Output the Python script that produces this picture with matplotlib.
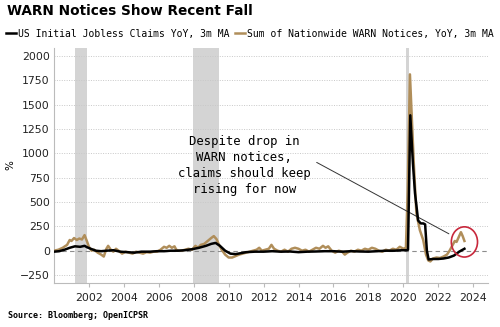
import matplotlib
matplotlib.use('Agg')
import matplotlib.pyplot as plt
from matplotlib.patches import Ellipse

# data (decimal year, % YoY 3m MA)
claims_x = [2000.0, 2000.3, 2000.6, 2000.9, 2001.2, 2001.5, 2001.75, 2001.9, 2002.1, 2002.4,
            2002.7, 2003.0, 2003.4, 2003.8, 2004.2, 2004.6, 2005.0, 2005.5, 2005.9, 2006.3,
            2006.7, 2007.1, 2007.5, 2007.9, 2008.3, 2008.7, 2009.0, 2009.25, 2009.5, 2009.8,
            2010.1, 2010.4, 2010.7, 2011.0, 2011.5, 2012.0, 2012.5, 2013.0, 2013.5, 2014.0,
            2014.5, 2015.0, 2015.5, 2016.0, 2016.5, 2017.0, 2017.5, 2018.0, 2018.5, 2019.0,
            2019.5, 2019.9, 2020.2, 2020.27, 2020.4, 2020.55, 2020.67, 2020.85, 2021.0, 2021.15,
            2021.25, 2021.35, 2021.45, 2021.7, 2022.0, 2022.3, 2022.6, 2022.9, 2023.2, 2023.5]
claims_y = [-10, -5, 10, 30, 45, 40, 50, 35, 20, 0,
            -5, 0, 5, -10, -15, -20, -10, -10, -5, -5,
            0, 0, 5, 15, 30, 50, 70, 80, 50, 0,
            -30, -35, -25, -15, -10, -10, -5, -10, -8, -15,
            -10, -8, -5, -5, -10, -5, -8, -10, -5, 0,
            0, 5, 5, 10, 1390, 900, 590, 310, 280, 280,
            270, 0, -90, -85, -85, -80, -70, -50, -10, 20]

warn_x = [2000.0, 2000.25, 2000.5, 2000.75, 2000.9, 2001.0, 2001.15, 2001.3, 2001.45, 2001.6,
          2001.75, 2001.9, 2002.0, 2002.15, 2002.3, 2002.5, 2002.7, 2002.85, 2003.0, 2003.1,
          2003.25, 2003.4, 2003.55, 2003.7, 2003.9, 2004.1, 2004.3, 2004.5, 2004.7, 2004.9,
          2005.1, 2005.3, 2005.5, 2005.7, 2005.9, 2006.1, 2006.3, 2006.45, 2006.6, 2006.75,
          2006.9, 2007.0, 2007.15, 2007.3, 2007.5, 2007.7, 2007.9, 2008.1, 2008.25, 2008.4,
          2008.6, 2008.8, 2009.0, 2009.15, 2009.3, 2009.45, 2009.6, 2009.8, 2010.0, 2010.2,
          2010.4, 2010.6, 2010.8, 2011.0, 2011.2, 2011.4, 2011.6, 2011.75, 2011.9, 2012.1,
          2012.3, 2012.45, 2012.6, 2012.8, 2013.0, 2013.2, 2013.4, 2013.6, 2013.8, 2014.0,
          2014.2, 2014.4, 2014.6, 2014.8, 2015.0, 2015.2, 2015.4, 2015.55, 2015.7, 2015.9,
          2016.1, 2016.3, 2016.5, 2016.65, 2016.8, 2017.0, 2017.2, 2017.4, 2017.6, 2017.8,
          2018.0, 2018.2, 2018.4, 2018.6, 2018.8, 2019.0, 2019.2, 2019.4, 2019.6, 2019.8,
          2020.0, 2020.15, 2020.25, 2020.38, 2020.5, 2020.6, 2020.75, 2020.95, 2021.14, 2021.3,
          2021.43, 2021.55, 2021.7, 2021.9, 2022.1, 2022.3, 2022.5, 2022.65, 2022.8, 2022.95,
          2023.05, 2023.15, 2023.3, 2023.4, 2023.5]
warn_y = [0, 10, 30, 60, 110, 100, 130, 110, 125, 115,
          160, 90, 40, 0, 10, -20, -40, -60, 20, 50,
          10, -10, 20, 0, -30, -10, -20, -30, -10, -20,
          -30, -15, -20, -10, -10, 10, 40, 30, 50, 30,
          45, 10, 0, 0, 10, 20, 10, 50, 30, 60,
          70, 100, 130, 150, 120, 60, 10, -40, -70, -70,
          -55, -40, -30, -20, -10, 0, 10, 30, 0, 10,
          20, 60, 20, 0, -10, 10, -10, 20, 30, 20,
          0, 10, -10, 10, 30, 20, 50, 30, 45, 0,
          -20, 0, -10, -40, -20, 0, -10, 10, 0, 20,
          10, 30, 20, 0, -10, 10, 0, 20, 10, 40,
          20, 30, 600, 1810, 1300, 900, 385, 210, 110, -40,
          -100, -110, -80, -70, -75, -60, -40, 0, 50, 100,
          90, 130, 190, 150, 100]

recessions = [(2001.2, 2001.9), (2007.95, 2009.45), (2020.15, 2020.3)]
yticks = [-250, 0, 250, 500, 750, 1000, 1250, 1500, 1750, 2000]
xticks = list(range(2002, 2025, 2))

mono = ['DejaVu Sans Mono']
plt.rcParams['font.family'] = ['DejaVu Sans']

fig = plt.figure(figsize=(5, 3.27), dpi=100)
ax = fig.add_axes([0.108, 0.135, 0.868, 0.718])

for a, b in recessions:
    ax.axvspan(a, b, color='#d4d4d4', lw=0, zorder=0)

for v in yticks:
    if v == 0:
        ax.axhline(0, color='#8c8c8c', lw=0.8, ls=(0, (4, 3)), zorder=1)
    else:
        ax.axhline(v, color='#c8c8c8', lw=0.7, ls=(0, (1, 1.5)), zorder=1)

ax.plot(warn_x, warn_y, color='#b08e5a', lw=1.8, zorder=3,
        label='Sum of Nationwide WARN Notices, YoY, 3m MA')
ax.plot(claims_x, claims_y, color='black', lw=1.8, zorder=4,
        label='US Initial Jobless Claims YoY, 3m MA')

ax.set_xlim(2000.0, 2024.85)
ax.set_ylim(-330, 2080)
ax.set_yticks(yticks)
ax.set_xticks(xticks)
ax.tick_params(axis='both', labelsize=7.8, colors='#222222', length=0, pad=3)
ax.tick_params(axis='x', length=3, color='#bbbbbb', pad=4)
for s in ['top', 'right']:
    ax.spines[s].set_visible(False)
for s in ['left', 'bottom']:
    ax.spines[s].set_color('#bbbbbb')
    ax.spines[s].set_linewidth(0.8)
ax.set_ylabel('%', fontsize=7.5, labelpad=3)

# annotation
ax.annotate('', xy=(2022.75, 160), xytext=(2014.9, 920),
            arrowprops=dict(arrowstyle='-', color='#333333', lw=0.7))
ax.text(2010.9, 870, 'Despite drop in\nWARN notices,\nclaims should keep\nrising for now',
        ha='center', va='center', fontsize=8.8, family=mono, linespacing=1.3)
ax.add_patch(Ellipse((2023.5, 90), 1.5, 310, fill=False, ec='#c8283c', lw=1.2, zorder=5))

handles, labels = ax.get_legend_handles_labels()
fig.legend(handles[::-1], labels[::-1], loc='upper left', bbox_to_anchor=(0.0, 0.93),
           ncol=2, frameon=False, prop={'family': mono, 'size': 7.0},
           handlelength=1.0, handletextpad=0.3, columnspacing=0.5, borderaxespad=0.2)

fig.text(0.014, 0.945, 'WARN Notices Show Recent Fall', fontsize=9.8, fontweight='bold',
         va='bottom', ha='left')
fig.text(0.016, 0.02, 'Source: Bloomberg; OpenICPSR', fontsize=6, fontweight='bold',
         family=mono, va='bottom', ha='left')

fig.savefig('out.png', dpi=100)
